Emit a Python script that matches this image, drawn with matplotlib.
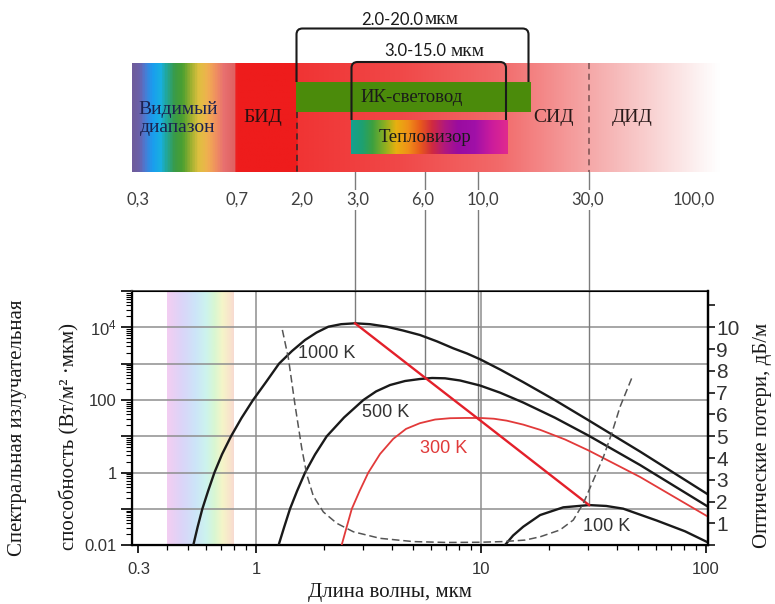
import numpy as np
import matplotlib
matplotlib.use('Agg')
import matplotlib.pyplot as plt
import matplotlib.transforms as mtransforms
from matplotlib.colors import LinearSegmentedColormap
from matplotlib.path import Path
from matplotlib.patches import PathPatch, Rectangle
from matplotlib.ticker import FixedLocator, FixedFormatter, LogLocator, NullFormatter

plt.rcParams['font.family'] = ['Liberation Sans', 'DejaVu Sans']
plt.rcParams['mathtext.fontset'] = 'custom'
plt.rcParams['mathtext.rm'] = 'Liberation Sans'
plt.rcParams['mathtext.it'] = 'Liberation Sans:italic'

SERIF = ['Liberation Serif', 'DejaVu Serif']

# spectral emittance curves, W/(m2*um)
wl_1000 = [0.526, 0.550, 0.577, 0.612, 0.653, 0.706, 0.774, 0.862, 0.970, 1.108, 1.265, 1.445,
           1.651, 1.857, 2.096, 2.387, 2.754, 3.212, 3.81, 4.50, 5.35, 6.36, 7.53, 8.67, 9.90,
           12.15, 15.4, 21.3, 30.1, 50.9, 101.7]
em_1000 = [0.01, 0.032, 0.1, 0.31, 1.0, 3.2, 10, 32, 100, 313, 1000, 2230,
           4480, 7190, 10400, 12200, 12900, 12200, 10400, 8170, 6150, 4120, 2640, 1900, 1320,
           690, 310, 99, 27.4, 3.8, 0.254]

wl_500 = [1.259, 1.332, 1.415, 1.521, 1.651, 1.829, 2.061, 2.461, 3.0, 3.415, 3.94, 4.594,
          5.35, 6.06, 6.92, 8.07, 9.9, 12.15, 15.4, 21.3, 30.1, 50.9, 101.7]
em_500 = [0.01, 0.031, 0.1, 0.31, 1.0, 3.16, 10, 33, 100, 172, 258, 333,
          378, 403, 395, 344, 250, 159, 85, 32.5, 10.4, 1.62, 0.117]

wl_300 = [2.40, 2.525, 2.663, 2.884, 3.154, 3.557, 4.07, 4.64, 5.35, 6.25, 7.28, 8.49, 9.9,
          11.4, 13.0, 15.4, 18.3, 23.6, 30.1, 50.9, 101.7]
em_300 = [0.01, 0.031, 0.1, 0.31, 1.0, 3.26, 8.5, 16, 23, 29, 31.5, 32, 32,
          30.5, 27, 21, 15.1, 8.2, 4.06, 0.76, 0.062]

wl_100 = [12.75, 13.88, 15.4, 18.3, 23.2, 30.2, 36.0, 42.8, 60.4, 80.6, 101.7]
em_100 = [0.01, 0.0186, 0.0325, 0.068, 0.111, 0.128, 0.121, 0.102, 0.048, 0.0243, 0.0121]

# Wien line through the peaks
wien_wl = [2.754, 5.64, 9.73, 30.2]
wien_em = [12900, 410, 30, 0.128]

# optical losses of the fibre, dB/m (right axis)
loss_wl = [1.309, 1.392, 1.49, 1.596, 1.68, 1.797, 1.991, 2.284, 2.707, 3.557, 5.0, 7.04,
           9.9, 12.5, 15.7, 18.3, 22.4, 25.7, 28.5, 31.6, 35.0, 38.1, 41.5, 46.7]
loss_db = [9.88, 8.59, 6.44, 4.46, 3.25, 2.26, 1.53, 1.01, 0.62, 0.32, 0.17, 0.13,
           0.14, 0.17, 0.24, 0.39, 0.70, 1.16, 1.93, 3.0, 4.06, 5.14, 6.36, 7.66]

temps = ['1000 K', '500 K', '300 K', '100 K']

band_ticks = ['0,3', '0,7', '2,0', '3,0', '6,0', '10,0', '30,0', '100,0']
band_tick_px = [138, 237, 302, 358, 423, 483, 588, 694]

W, H = 775, 604


def fx(px):
    return px / W


def fy(py):
    return 1 - py / H


fig = plt.figure(figsize=(W / 100, H / 100), dpi=100)

ax = fig.add_axes([fx(132), fy(545.3), fx(708) - fx(132), fy(291) - fy(545.3)])
ax.set_xscale('log')
ax.set_yscale('log')

# pale visible band
vis = LinearSegmentedColormap.from_list('vis', [
    (0.0, '#f2cef2'), (0.15, '#dcd4f8'), (0.32, '#cde4f9'), (0.48, '#ccf3ee'),
    (0.62, '#d9f7d2'), (0.76, '#f5f5c8'), (0.9, '#f9e4cc'), (1.0, '#f7d8d4')])
ax.imshow(vis(np.linspace(0, 1, 200))[None, :, :], extent=(0.40, 0.80, 0.01, 1e5),
          aspect='auto', interpolation='bilinear', zorder=0)

for yv in [0.1, 1, 10, 100, 1000, 1e4]:
    ax.axhline(yv, color='#8e8e8e', lw=1.1, zorder=1)
for xv in [1, 10]:
    ax.axvline(xv, color='#8e8e8e', lw=1.1, zorder=1)

# connectors from the peaks up to the scale
trans = mtransforms.blended_transform_factory(ax.transData, fig.transFigure)
for w, v in zip(wien_wl, wien_em):
    ax.plot([w, w], [v, 1e5], color='#7c7c7c', lw=1.0, zorder=1)
    ax.plot([w, w], [fy(291), fy(172)], color='#7c7c7c', lw=1.0, transform=trans,
            clip_on=False, zorder=1)

ax.plot(wl_1000, em_1000, color='#1a1a1a', lw=1.7, zorder=3)
ax.plot(wl_500, em_500, color='#1a1a1a', lw=1.7, zorder=3)
ax.plot(wl_300, em_300, color='#e23a3a', lw=1.3, zorder=3)
ax.plot(wl_100, em_100, color='#1a1a1a', lw=1.7, zorder=3)
ax.plot(wien_wl, wien_em, color='#e3202a', lw=1.7, zorder=4)

ax.text(1.54, 1960, temps[0], fontsize=13, color='#333333', va='center', ha='left')
ax.text(2.95, 46, temps[1], fontsize=13, color='#333333', va='center', ha='left')
ax.text(5.35, 4.7, temps[2], fontsize=13, color='#e03a3a', va='center', ha='left')
ax.text(28.4, 0.0325, temps[3], fontsize=13, color='#333333', va='center', ha='left')

ax.set_xlim(0.281, 102)
ax.set_ylim(0.01, 1e5)

ax.yaxis.set_major_locator(FixedLocator([1e-2, 1e-1, 1, 10, 100, 1e3, 1e4, 1e5]))
ax.yaxis.set_major_formatter(FixedFormatter(['0.01', '', '1', '', '100', '', '$10^4$', '']))
ax.yaxis.set_minor_locator(LogLocator(base=10, subs=np.arange(2, 10), numticks=20))
ax.yaxis.set_minor_formatter(NullFormatter())
ax.xaxis.set_major_locator(FixedLocator([0.3, 1, 10, 100]))
ax.xaxis.set_major_formatter(FixedFormatter(['0.3', '1', '10', '100']))
ax.xaxis.set_minor_locator(LogLocator(base=10, subs=np.arange(2, 10), numticks=20))
ax.xaxis.set_minor_formatter(NullFormatter())
ax.tick_params(axis='y', which='major', direction='out', length=8, width=1.2,
               labelsize=12, labelcolor='#333333', pad=3)
ax.tick_params(axis='y', which='minor', direction='out', length=4, width=0.8)
ax.tick_params(axis='x', which='major', direction='out', length=6, width=1.2,
               labelsize=12, labelcolor='#333333', pad=6)
ax.tick_params(axis='x', which='minor', direction='out', length=3.5, width=0.9)
for s in ['left', 'bottom', 'right']:
    ax.spines[s].set_linewidth(1.6)
ax.spines['top'].set_linewidth(1.3)
ax.spines['top'].set_color('#444444')

ax2 = ax.twinx()
ax2.plot(loss_wl, loss_db, color='#555555', lw=1.1, dashes=(5, 2.5), zorder=3)
ax2.set_ylim(0, 11.665)
ax2.yaxis.set_major_locator(FixedLocator(list(range(12))))
ax2.yaxis.set_major_formatter(FixedFormatter([''] + [str(i) for i in range(1, 11)] + ['']))
ax2.tick_params(axis='y', direction='out', length=5, width=1.1, labelsize=15,
                labelcolor='#333333', pad=1)
ax2.spines['right'].set_linewidth(1.6)
ax2.set_xlim(0.281, 102)

fig.text(fx(18), fy(428), 'Спектральная излучательная', rotation=90, ha='center',
         va='center', fontsize=15, family=SERIF, color='#1a1a1a')
fig.text(fx(69), fy(437), 'способность (Вт/м² ·мкм)', rotation=90, ha='center',
         va='center', fontsize=15, family=SERIF, color='#1a1a1a')
fig.text(fx(763), fy(435), 'Оптические потери, дБ/м', rotation=90, ha='center',
         va='center', fontsize=15, family=SERIF, color='#1a1a1a')
fig.text(fx(390), fy(593), 'Длина волны, мкм', ha='center', va='center',
         fontsize=15, family=SERIF, color='#1a1a1a')

# spectral scale on top
ov = fig.add_axes([0, 0, 1, 1], zorder=5)
ov.axis('off')

band_stops = [(132, '#6e5c9c'), (138, '#6a60aa'), (143, '#4f78d0'), (151, '#1a9cf0'),
              (159.7, '#18b0e0'), (164.7, '#20a8a0'), (173, '#3a9a48'), (181.3, '#4aa030'),
              (189.7, '#9cb030'), (198, '#e0c040'), (206.3, '#f0b050'), (214.7, '#f09060'),
              (223, '#e87070'), (233, '#e06262'), (235.5, '#ee1c1c'), (296, '#ee1c1c'),
              (298, '#f03434'), (400, '#f04848'), (500, '#f26a6a'), (590, '#f5a8a8'),
              (650, '#f9d0d0'), (700, '#fdf2f2'), (720, '#ffffff'), (775, '#ffffff')]
band_cmap = LinearSegmentedColormap.from_list(
    'band', [((p - 132) / (775 - 132), c) for p, c in band_stops])
ov.imshow(band_cmap(np.linspace(0, 1, 1300))[None, :, :], extent=(132, 775, 172, 63),
          aspect='auto', interpolation='bilinear')

ov.add_patch(Rectangle((295.5, 82), 235, 29.5, color='#4b8b0b', lw=0))

tv_stops = [(351, '#14a090'), (362, '#1ea070'), (372, '#3ca040'), (385, '#90b020'),
            (396, '#e8b010'), (408, '#f09018'), (420, '#e85a1c'), (432, '#d02a40'),
            (445, '#b01880'), (458, '#9a0ca0'), (475, '#a010a8'), (492, '#cc1c9c'),
            (507.5, '#e02a8e')]
tv_cmap = LinearSegmentedColormap.from_list(
    'tv', [((p - 351) / (507.5 - 351), c) for p, c in tv_stops])
ov.imshow(tv_cmap(np.linspace(0, 1, 400))[None, :, :], extent=(351, 507.5, 154, 120),
          aspect='auto', interpolation='bilinear')

ov.plot([296.5, 296.5], [111.5, 172], color='#2a2a2a', lw=1.1, dashes=(4, 3))
ov.plot([589, 589], [63, 172], color='#7a5050', lw=1.1, dashes=(4, 3))


def bracket(x0, x1, ytop, yb0, yb1, r=6):
    verts = [(x0, yb0), (x0, ytop + r), (x0, ytop), (x0 + r, ytop), (x1 - r, ytop),
             (x1, ytop), (x1, ytop + r), (x1, yb1)]
    codes = [Path.MOVETO, Path.LINETO, Path.CURVE3, Path.CURVE3, Path.LINETO,
             Path.CURVE3, Path.CURVE3, Path.LINETO]
    ov.add_patch(PathPatch(Path(verts, codes), fill=False, ec='#1a1a1a', lw=1.5))


bracket(296.5, 528.5, 28.5, 82, 82)
bracket(351.5, 506, 62, 120, 120)

ov.text(423, 20, '2.0-20.0', ha='right', va='center', fontsize=12, family='Lato', color='#1a1a1a')
ov.text(425, 20, 'мкм', ha='left', va='center', fontsize=14, family=SERIF, color='#1a1a1a')
ov.text(446, 51, '3.0-15.0', ha='right', va='center', fontsize=12, family='Lato', color='#1a1a1a')
ov.text(451, 51, 'мкм', ha='left', va='center', fontsize=14, family=SERIF, color='#1a1a1a')

ov.text(178, 118.5, 'Видимый\nдиапазон', ha='center', va='center', fontsize=14,
        family=SERIF, color='#1c2250', linespacing=1.05)
ov.text(263, 118, 'БИД', ha='center', va='center', fontsize=14, family=SERIF, color='#2a1010')
ov.text(412, 97, 'ИК-световод', ha='center', va='center', fontsize=13.5, family=SERIF,
        color='#1a1a1a')
ov.text(425, 137, 'Тепловизор', ha='center', va='center', fontsize=13.5, family=SERIF,
        color='#1a1a1a')
ov.text(553, 118, 'СИД', ha='center', va='center', fontsize=14, family=SERIF, color='#2a1a1a')
ov.text(632, 118, 'ДИД', ha='center', va='center', fontsize=14, family=SERIF, color='#2a1a1a')

for lab, px in zip(band_ticks, band_tick_px):
    ov.text(px, 200, lab, ha='center', va='center', fontsize=12, family='Lato',
            color='#404040', bbox=dict(fc='white', ec='none', pad=1.5))

ov.set_xlim(0, W)
ov.set_ylim(H, 0)

fig.savefig('out.png', dpi=100)
